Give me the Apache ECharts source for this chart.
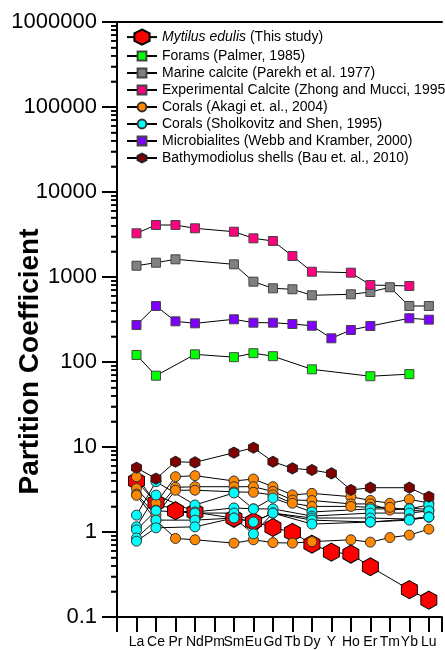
<!DOCTYPE html>
<html>
<head>
<meta charset="utf-8">
<script src="https://cdn.jsdelivr.net/npm/echarts@6/dist/echarts.min.js"></script>
<style>
  html, body { margin: 0; padding: 0; background: #fff; }
  #chart { width: 445px; height: 650px; }
</style>
</head>
<body>
<div id="chart"></div>
<script>
// Rare earth elements (plus Y) along the x axis
const elements = ['La', 'Ce', 'Pr', 'Nd', 'Pm', 'Sm', 'Eu', 'Gd', 'Tb', 'Dy', 'Y', 'Ho', 'Er', 'Tm', 'Yb', 'Lu'];

// Decades of the log axis, their labels, and the in-between tick multipliers
const yTickValues = [0.1, 1, 10, 100, 1000, 10000, 100000, 1000000];
const yTickLabels = ['0.1', '1', '10', '100', '1000', '10000', '100000', '1000000'];
const minorMultipliers = [2, 3, 4, 5, 6, 7, 8, 9];

// Partition coefficients (null = not measured)
const mytilus = [3.98, 2.21, 1.78, 1.71, null, 1.45, 1.32, 1.13, 0.99, 0.72, 0.58, 0.55, 0.39, null, 0.21, 0.158];
const forams = [121, 69, null, 123, null, 114, 127, 117, null, 82, null, null, 68, null, 72, null];
const marineCalcite = [1358, 1473, 1615, null, null, 1410, 881, 736, 717, 609, null, 626, 666, 757, 456, 456];
const experimentalCalcite = [3266, 4090, 4090, 3740, null, 3410, 2850, 2653, 1766, 1154, null, 1124, 805, null, 784, null];

// Corals, Akagi et al. (2004): four specimens
const akagi1 = [4.47, 2.18, 4.47, 4.6, null, 3.98, 4.2, 3.41, 2.73, 2.85, null, 2.6, 2.35, 2.18, 2.42, 2.2];
const akagi2 = [3.25, 1.81, 3.35, 3.41, null, 3.41, 3.41, 3.0, 2.38, 2.35, null, 2.14, 2.14, 1.81, 1.9, 1.85];
const akagi3 = [2.8, 1.58, 3.1, 3.1, null, 2.97, 2.93, 2.73, 2.18, 2.0, null, 2.0, 1.95, 1.95, 1.8, 1.75];
const akagi4 = [2.7, 1.38, 0.84, 0.81, null, 0.74, 0.81, 0.75, 0.74, 0.77, null, 0.81, 0.76, 0.86, 0.92, 1.08];

// Corals, Sholkovitz and Shen (1995): five specimens
const sholkovitz1 = [1.58, 3.91, null, 2.08, null, 2.88, 1.87, 2.51, null, 1.72, null, null, 1.87, null, 1.87, 2.08];
const sholkovitz2 = [1.15, 2.72, null, 1.72, null, 1.92, 1.87, 1.87, null, 1.54, null, null, 1.67, null, 1.67, 1.77];
const sholkovitz3 = [1.06, 1.78, null, 1.67, null, 1.67, 1.31, 1.67, null, 1.46, null, null, 1.46, null, 1.42, 1.5];
const sholkovitz4 = [0.85, 1.38, null, 1.38, null, 1.46, 1.31, 1.67, null, 1.38, null, null, 1.31, null, 1.42, 1.5];
const sholkovitz5 = [0.78, 1.12, null, 1.15, null, 1.46, 0.95, 1.67, null, 1.24, null, null, 1.31, null, 1.38, 1.5];

const microbialites = [272, 456, 301, 285, null, 318, 290, 290, 280, 267, 190, 238, 265, null, 327, 315];
const bathymodiolus = [5.7, 4.24, 6.71, 6.6, null, 8.57, 9.8, 6.71, 5.61, 5.36, 4.9, 3.12, 3.32, null, 3.32, 2.6];

const NAMES = {
  mytilus: 'Mytilus edulis (This study)',
  forams: 'Forams (Palmer, 1985)',
  marine: 'Marine calcite (Parekh et al. 1977)',
  experimental: 'Experimental Calcite (Zhong and Mucci, 1995)',
  akagi: 'Corals (Akagi et. al., 2004)',
  sholkovitz: 'Corals (Sholkovitz and Shen, 1995)',
  microbialites: 'Microbialites (Webb and Kramber, 2000)',
  bathymodiolus: 'Bathymodiolus shells (Bau et. al., 2010)'
};

const FONT = '"Liberation Sans", Arial, sans-serif';
const HEXAGON = 'path://M0,-10 L8.66,-5 L8.66,5 L0,10 L-8.66,5 L-8.66,-5 Z';
const X_MIN = -1;
const X_MAX = 15.675;

function toPoints(values) {
  const out = [];
  values.forEach((v, i) => { if (v != null) out.push([i, v]); });
  return out;
}

function lineSeries(name, values, symbol, size, fill, border) {
  return {
    type: 'line',
    name: name,
    data: toPoints(values),
    symbol: symbol,
    symbolSize: size,
    itemStyle: { color: fill, borderColor: border, borderWidth: 1 },
    lineStyle: { color: '#000', width: 1 },
    emphasis: { disabled: true }
  };
}

// Log-axis tick marks: [x at the axis, value, 1 = decade / 0 = in-between]
const yTickMarks = [];
yTickValues.forEach(v => yTickMarks.push([X_MIN, v, 1]));
yTickValues.slice(0, -1).forEach(v => {
  minorMultipliers.forEach(m => yTickMarks.push([X_MIN, +(v * m).toPrecision(6), 0]));
});

const tickSeries = {
  type: 'custom',
  name: 'yTicks',
  data: yTickMarks,
  encode: { x: 0, y: 1 },
  clip: false,
  silent: true,
  z: 5,
  renderItem: (params, api) => {
    const p = api.coord([api.value(0), api.value(1)]);
    const major = api.value(2) === 1;
    const len = major ? 15 : 6;
    return {
      type: 'line',
      shape: { x1: p[0] - len, y1: p[1], x2: p[0], y2: p[1] },
      style: { stroke: '#000', lineWidth: major ? 2 : 1.5 }
    };
  }
};

const series = [
  lineSeries(NAMES.mytilus, mytilus, HEXAGON, [16, 18], '#ff0000', '#000'),
  lineSeries(NAMES.forams, forams, 'rect', 9, '#00ff00', '#444'),
  lineSeries(NAMES.marine, marineCalcite, 'rect', 9, '#808080', '#444'),
  lineSeries(NAMES.experimental, experimentalCalcite, 'rect', 9, '#ff0080', '#444'),
  lineSeries(NAMES.akagi, akagi1, 'circle', 10, '#ff8800', '#333'),
  lineSeries(NAMES.akagi, akagi2, 'circle', 10, '#ff8800', '#333'),
  lineSeries(NAMES.akagi, akagi3, 'circle', 10, '#ff8800', '#333'),
  lineSeries(NAMES.akagi, akagi4, 'circle', 10, '#ff8800', '#333'),
  lineSeries(NAMES.sholkovitz, sholkovitz1, 'circle', 10, '#00ffff', '#333'),
  lineSeries(NAMES.sholkovitz, sholkovitz2, 'circle', 10, '#00ffff', '#333'),
  lineSeries(NAMES.sholkovitz, sholkovitz3, 'circle', 10, '#00ffff', '#333'),
  lineSeries(NAMES.sholkovitz, sholkovitz4, 'circle', 10, '#00ffff', '#333'),
  lineSeries(NAMES.sholkovitz, sholkovitz5, 'circle', 10, '#00ffff', '#333'),
  lineSeries(NAMES.microbialites, microbialites, 'rect', 9, '#8000ff', '#444'),
  lineSeries(NAMES.bathymodiolus, bathymodiolus, HEXAGON, [10, 11], '#800000', '#222'),
  tickSeries
];

const legendText = {
  fontSize: 14,
  color: '#000',
  fontFamily: FONT,
  lineHeight: 14,
  rich: { it: { fontStyle: 'italic', fontSize: 14, fontFamily: FONT, color: '#000' } }
};

const chart = echarts.init(document.getElementById('chart'), null, { renderer: 'canvas' });
chart.setOption({
  animation: false,
  backgroundColor: '#fff',
  grid: { left: 117, top: 22, right: 0, bottom: 33 },
  legend: [
    {
      data: [NAMES.mytilus],
      orient: 'vertical', left: 126, top: 28.5, padding: 0,
      itemWidth: 30, itemHeight: 19, selectedMode: false,
      formatter: () => '{it|Mytilus edulis} (This study)',
      textStyle: legendText
    },
    {
      data: [NAMES.forams, NAMES.marine, NAMES.experimental, NAMES.akagi, NAMES.sholkovitz, NAMES.microbialites, NAMES.bathymodiolus],
      orient: 'vertical', left: 126, top: 49, padding: 0,
      itemWidth: 30, itemHeight: 11, itemGap: 3.0, selectedMode: false,
      textStyle: legendText
    }
  ],
  xAxis: [
    {
      // the frame runs on past Lu, so the range ends a little after the last element
      type: 'value', min: X_MIN, max: X_MAX, interval: 1,
      axisLine: { show: true, onZero: false, lineStyle: { color: '#000', width: 2 } },
      axisTick: { show: true, length: 15, lineStyle: { color: '#000', width: 2 } },
      axisLabel: {
        formatter: v => elements[v] || '',
        fontSize: 14, lineHeight: 14, color: '#000', margin: 18, fontFamily: FONT
      },
      splitLine: { show: false }
    },
    {
      // top edge of the frame
      type: 'value', position: 'top', min: X_MIN, max: X_MAX,
      axisLine: { show: true, onZero: false, lineStyle: { color: '#000', width: 2 } },
      axisTick: { show: false },
      axisLabel: { show: false },
      splitLine: { show: false }
    }
  ],
  yAxis: {
    type: 'log', logBase: 10, min: 0.1, max: 1000000,
    position: 'left',
    axisLine: { show: true, onZero: false, lineStyle: { color: '#000', width: 2 } },
    axisTick: { show: true, length: 15, lineStyle: { color: '#000', width: 2 } },
    minorTick: { show: true, splitNumber: 9, length: 6, lineStyle: { color: '#000', width: 1.5 } },
    axisLabel: {
      formatter: v => yTickLabels[Math.round(Math.log10(v)) + 1],
      fontSize: 22, color: '#000', margin: 20, fontFamily: FONT
    },
    splitLine: { show: false },
    minorSplitLine: { show: false },
    name: 'Partition Coefficient',
    nameLocation: 'middle',
    nameGap: 73,
    nameMoveOverlap: false,
    nameTextStyle: { fontSize: 28, fontWeight: 'bold', color: '#000', fontFamily: FONT, padding: [0, 84, 0, 0] }
  },
  series: series
});
</script>
</body>
</html>
